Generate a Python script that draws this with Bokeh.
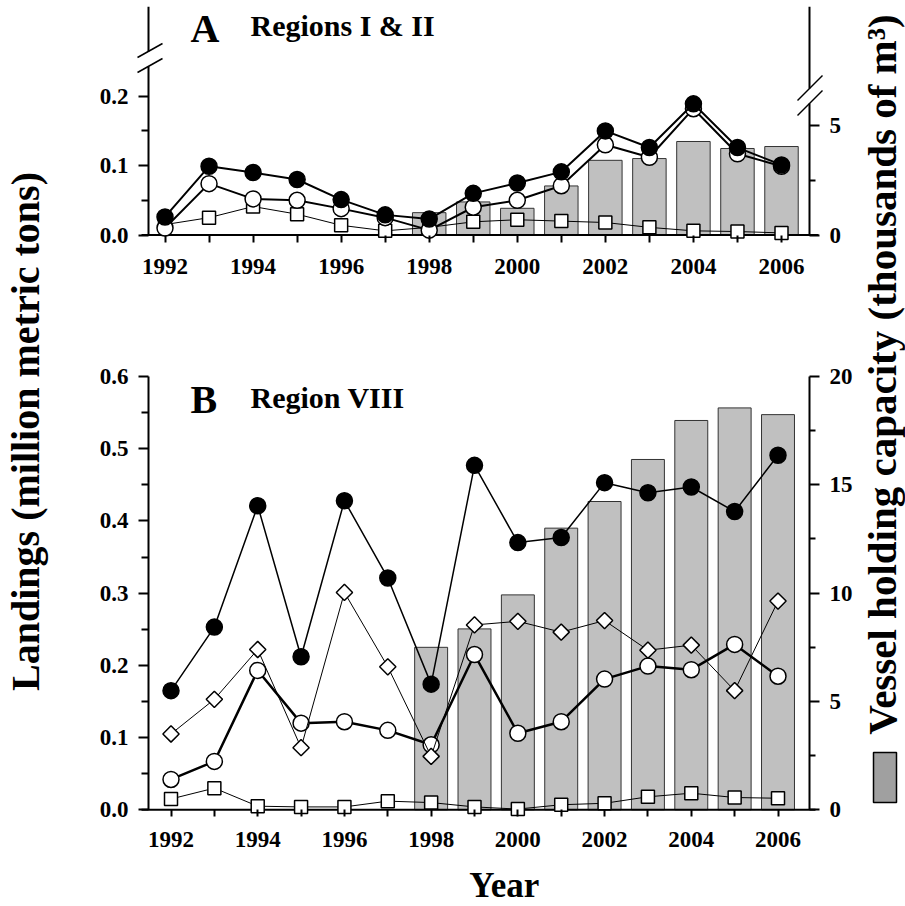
import math
from bokeh.plotting import figure
from bokeh.models import Range1d, LinearAxis, FixedTicker, NumeralTickFormatter, Label
from bokeh.layouts import row, column
from bokeh.embed import file_html
from bokeh.resources import INLINE

# ---------------- data ----------------
years = list(range(1992, 2007))
bar_years = list(range(1998, 2007))
even_years = list(range(1992, 2007, 2))
odd_years = list(range(1993, 2006, 2))

# Panel A : Regions I & II (million metric tons)
a_filled = [0.026, 0.099, 0.090, 0.080, 0.051, 0.029, 0.023, 0.060, 0.075, 0.091, 0.150, 0.126, 0.189, 0.126, 0.101]
a_open = [0.010, 0.074, 0.052, 0.050, 0.038, 0.025, 0.007, 0.040, 0.050, 0.071, 0.130, 0.112, 0.182, 0.117, 0.099]
a_square = [0.015, 0.025, 0.041, 0.030, 0.014, 0.006, 0.011, 0.019, 0.022, 0.020, 0.018, 0.011, 0.006, 0.005, 0.003]
a_capacity = [1.02, 1.51, 1.22, 2.24, 3.41, 3.49, 4.27, 3.95, 4.04]  # thousands of m3

# Panel B : Region VIII
b_filled = [0.165, 0.253, 0.421, 0.212, 0.428, 0.321, 0.174, 0.477, 0.370, 0.377, 0.453, 0.439, 0.447, 0.413, 0.491]
b_open = [0.042, 0.067, 0.193, 0.120, 0.122, 0.110, 0.090, 0.215, 0.106, 0.122, 0.181, 0.199, 0.194, 0.229, 0.185]
b_diamond = [0.105, 0.153, 0.222, 0.086, 0.301, 0.198, 0.074, 0.256, 0.261, 0.246, 0.262, 0.221, 0.228, 0.165, 0.289]
b_square = [0.015, 0.030, 0.005, 0.004, 0.004, 0.012, 0.010, 0.004, 0.001, 0.007, 0.009, 0.018, 0.023, 0.017, 0.016]
b_capacity = [7.50, 8.35, 9.92, 13.00, 14.23, 16.17, 17.97, 18.55, 18.24]

a_left_ticks = [0.0, 0.1, 0.2]
a_left_minor = [0.05, 0.15]
a_right_ticks = [0, 5]
a_right_minor = [2.5]
b_left_ticks = [0.0, 0.1, 0.2, 0.3, 0.4, 0.5, 0.6]
b_left_minor = [0.05, 0.15, 0.25, 0.35, 0.45, 0.55]
b_right_ticks = [0, 5, 10, 15, 20]
b_right_minor = [2.5, 7.5, 12.5, 17.5]

FONT = "Liberation Serif"


# ---------------- geometry helpers (page pixels -> data) ----------------
def lin(p0, p1, v0, v1):
    return lambda px: v0 + (px - p0) * (v1 - v0) / (p1 - p0)


xA = lin(164.5, 781.0, 1992, 2006)
yA = lin(234.5, 95.7, 0.0, 0.2)
rA = lin(234.5, 125.0, 0.0, 5.0)
xB = lin(170.5, 777.5, 1992, 2006)
yB = lin(809.3, 376.0, 0.0, 0.6)
rB = lin(809.3, 376.0, 0.0, 20.0)

FRAME_L, FRAME_R = 136, 824
FIG_L, FIG_R = 58, 858
AX_L, AX_R = 148, 809
PAGE_W, PAGE_H = 905, 906


def tick_style(ax, major_out, minor_out):
    ax.axis_line_color = None
    ax.major_tick_line_color = "black"
    ax.major_tick_line_width = 2
    ax.minor_tick_line_color = "black"
    ax.minor_tick_line_width = 2
    ax.major_tick_in = 0
    ax.major_tick_out = major_out
    ax.minor_tick_in = 0
    ax.minor_tick_out = minor_out
    ax.major_label_text_color = None


def label_style(ax, standoff):
    ax.axis_line_color = None
    ax.major_tick_line_color = None
    ax.minor_tick_line_color = None
    ax.major_tick_in = 0
    ax.major_tick_out = 0
    ax.minor_tick_in = 0
    ax.minor_tick_out = 0
    ax.major_label_text_font = FONT
    ax.major_label_text_font_style = "bold"
    ax.major_label_text_font_size = "23px"
    ax.major_label_text_color = "black"
    ax.major_label_standoff = standoff


def make_panel(top, bottom, fig_top, fig_bottom, xm, ym, rm, lticks, lminor, rticks, rminor, x_standoff):
    p = figure(width=FIG_R - FIG_L, height=fig_bottom - fig_top,
               x_range=Range1d(xm(FRAME_L), xm(FRAME_R)),
               y_range=Range1d(ym(bottom), ym(top)),
               min_border_left=FRAME_L - FIG_L, min_border_right=FIG_R - FRAME_R,
               min_border_top=top - fig_top, min_border_bottom=fig_bottom - bottom,
               x_axis_location=None, y_axis_location=None,
               output_backend="svg", toolbar_location=None)
    p.extra_y_ranges = {"right": Range1d(rm(bottom), rm(top))}
    p.outline_line_color = None
    p.xgrid.visible = False
    p.ygrid.visible = False

    lt = FixedTicker(ticks=lticks, minor_ticks=lminor)
    rt = FixedTicker(ticks=rticks, minor_ticks=rminor)
    bt = FixedTicker(ticks=even_years, minor_ticks=odd_years)

    # tick marks at the true axis positions
    ax = LinearAxis(fixed_location=xm(AX_L), ticker=lt)
    tick_style(ax, 10, 7)
    p.add_layout(ax, "left")
    ax = LinearAxis(y_range_name="right", fixed_location=xm(AX_R), ticker=rt)
    tick_style(ax, 10, 6)
    p.add_layout(ax, "right")
    ax = LinearAxis(fixed_location=0, ticker=bt)
    tick_style(ax, 7, 7)
    p.add_layout(ax, "below")

    # tick labels
    ax = LinearAxis(ticker=lt, formatter=NumeralTickFormatter(format="0.0"))
    label_style(ax, 8)
    p.add_layout(ax, "left")
    ax = LinearAxis(y_range_name="right", ticker=rt, formatter=NumeralTickFormatter(format="0"))
    label_style(ax, 5)
    p.add_layout(ax, "right")
    ax = LinearAxis(ticker=bt, formatter=NumeralTickFormatter(format="0"))
    label_style(ax, x_standoff)
    p.add_layout(ax, "below")
    return p


def series(p, y, marker, size, fill, lw, angle=0.0):
    p.line(years, y, line_color="black", line_width=lw)
    p.scatter(years, y, marker=marker, size=size, fill_color=fill,
              line_color="black", line_width=1.5, angle=angle)


def text(p, x, y, s, size, align="left", angle=0.0):
    # y (or x for rotated text) is the centre of the capital letters
    p.add_layout(Label(x=x, y=y, text=s, text_font=FONT, text_font_style="bold",
                       text_font_size=f"{size}px", text_color="black", angle=angle,
                       text_align=align, text_baseline="middle"))


# ---------------- Panel A ----------------
pA = make_panel(6, 245, 0, 300, xA, yA, rA, a_left_ticks, a_left_minor,
                a_right_ticks, a_right_minor, 13)
pA.vbar(x=bar_years, top=a_capacity, bottom=0, width=0.76, y_range_name="right",
        fill_color="#c0c0c0", line_color="#333333", line_width=1)
pA.segment(x0=[xA(AX_L), xA(AX_L), xA(AX_R), xA(AX_R), xA(141)],
           y0=[0, yA(51), 0, yA(88), 0],
           x1=[xA(AX_L), xA(AX_L), xA(AX_R), xA(AX_R), xA(818)],
           y1=[yA(66), yA(6), yA(103), yA(6), 0],
           line_color="black", line_width=2)
pA.segment(x0=[xA(137), xA(137), xA(797), xA(797)],
           y0=[yA(57), yA(72), yA(100), yA(115)],
           x1=[xA(162), xA(162), xA(822), xA(822)],
           y1=[yA(43), yA(58), yA(75), yA(90)],
           line_color="black", line_width=1.5)
series(pA, a_square, "square", 13, "white", 1)
series(pA, a_open, "circle", 16, "white", 2)
series(pA, a_filled, "circle", 16, "black", 2)
text(pA, xA(190), yA(27.5), "A", 40)
text(pA, xA(250), yA(25), "Regions I & II", 30)

# ---------------- Panel B ----------------
pB = make_panel(370, 820, 300, 862, xB, yB, rB, b_left_ticks, b_left_minor,
                b_right_ticks, b_right_minor, 11)
pB.vbar(x=bar_years, top=b_capacity, bottom=0, width=0.76, y_range_name="right",
        fill_color="#c0c0c0", line_color="#333333", line_width=1)
pB.segment(x0=[xB(AX_L), xB(AX_R), xB(141)],
           y0=[0, 0, 0],
           x1=[xB(AX_L), xB(AX_R), xB(815)],
           y1=[yB(376), yB(376), 0],
           line_color="black", line_width=2)
series(pB, b_square, "square", 13, "white", 1)
series(pB, b_open, "circle", 16, "white", 2.5)
series(pB, b_diamond, "square", 11.5, "white", 1, angle=math.pi / 4)
series(pB, b_filled, "circle", 16, "black", 1.5)
text(pB, xB(190), yB(399), "B", 40)
text(pB, xB(250), yB(396.5), "Region VIII", 30)


# ---------------- label strips (data coords = page pixels) ----------------
def strip(x0, x1, y0, y1):
    s = figure(width=x1 - x0, height=y1 - y0, x_range=Range1d(x0, x1), y_range=Range1d(y1, y0),
               min_border=0, min_border_left=0, min_border_right=0, min_border_top=0,
               min_border_bottom=0, x_axis_location=None, y_axis_location=None,
               output_backend="svg", toolbar_location=None)
    s.outline_line_color = None
    s.xgrid.visible = False
    s.ygrid.visible = False
    return s


pYear = strip(FIG_L, FIG_R, 862, PAGE_H)
text(pYear, 445, 885, "Year", 35)

pL = strip(0, FIG_L, 0, PAGE_H)
text(pL, 24.5, 431, "Landings (million metric tons)", 40, align="center", angle=math.pi / 2)

pR = strip(FIG_R, PAGE_W, 0, PAGE_H)
text(pR, 881, 374, "Vessel holding capacity (thousands of m³)", 41,
     align="center", angle=math.pi / 2)
pR.quad(left=[873], right=[896], top=[752], bottom=[802], fill_color="#a0a0a0",
        line_color="black", line_width=1.5)

layout = row(pL, column(pA, pB, pYear), pR)
open("out.html", "w").write(file_html(layout, INLINE))
